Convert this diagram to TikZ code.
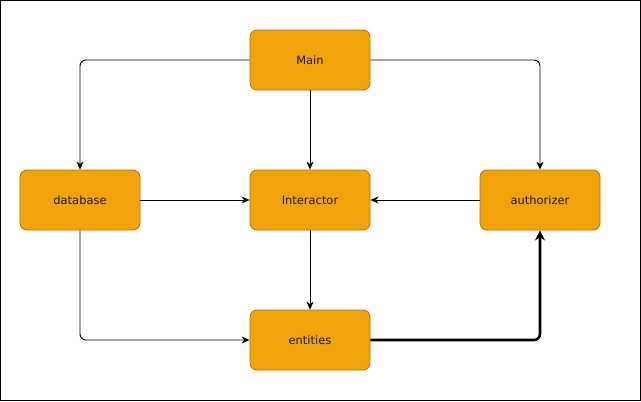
\documentclass[tikz,border=0pt]{standalone}
\usepackage{fontspec}
\setmainfont{DejaVu Sans}
\usetikzlibrary{arrows.meta}
\definecolor{boxfill}{HTML}{F0A30A}
\definecolor{boxline}{HTML}{BD7000}
\begin{document}
\begin{tikzpicture}[x=1bp,y=-1bp,
  box/.style={draw=boxline, fill=boxfill, rounded corners=7bp, minimum width=120bp, minimum height=60bp, inner sep=0pt, font=\fontsize{11.5}{13}\selectfont, text=black!90, line width=0.8bp},
  conn/.style={draw=black, line width=0.9bp, rounded corners=6bp, -{Stealth[length=8bp,width=7bp,inset=2.5bp]}},
  thickconn/.style={draw=black, line width=2.6bp, rounded corners=6bp, -{Stealth[length=10bp,width=10bp,inset=3bp]}}]
\useasboundingbox (0,0) rectangle (641,401);
\draw[line width=1bp] (0.5,0.5) rectangle (640.5,400.5);
\node[box] (main) at (310,60) {Main};
\node[box] (db) at (80,200) {database};
\node[box] (inter) at (310,200) {Interactor};
\node[box] (auth) at (540,200) {authorizer};
\node[box] (ent) at (310,340) {entities};
\draw[conn] (main.west) -| (db.north);
\draw[conn] (main.east) -| (auth.north);
\draw[conn] (main.south) -- (inter.north);
\draw[conn] (db.east) -- (inter.west);
\draw[conn] (auth.west) -- (inter.east);
\draw[conn] (inter.south) -- (ent.north);
\draw[conn] (db.south) |- (ent.west);
\draw[thickconn] (ent.east) -| (auth.south);
\end{tikzpicture}
\end{document}
